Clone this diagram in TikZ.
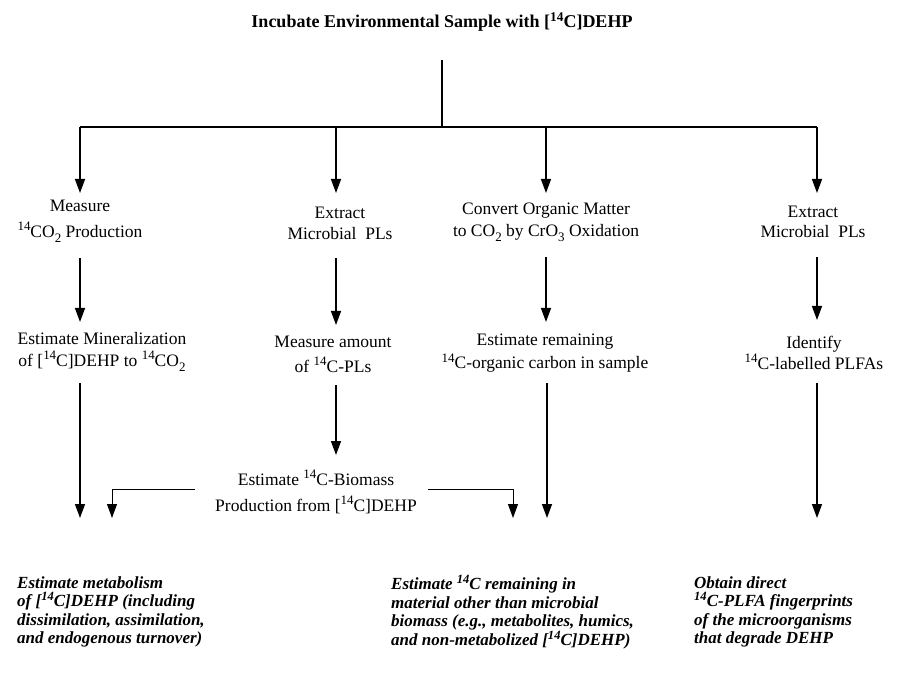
\documentclass[tikz,border=0pt]{standalone}
\usepackage{fontspec}
\usepackage{graphicx}
\setmainfont{Liberation Serif}
\usetikzlibrary{arrows.meta}
\newcommand{\sps}[1]{\raisebox{0.38em}{\scalebox{0.74}{#1}}}
\newcommand{\sbs}[1]{\raisebox{-0.3em}{\scalebox{0.74}{#1}}}
\begin{document}
\begin{tikzpicture}[x=1pt,y=-1pt,
  lbl/.style={font=\fontsize{17.5}{#1}\selectfont, align=center, inner sep=0pt},
  ttl/.style={font=\fontsize{18}{22}\selectfont\bfseries, inner sep=0pt},
  res/.style={font=\fontsize{17}{18.6}\selectfont\bfseries\itshape, align=left, inner sep=0pt, anchor=west},
  ln/.style={line width=1.4pt},
  arr/.style={line width=1.4pt, -{Triangle[length=14pt,width=10pt]}},
  tarr/.style={line width=1pt, -{Triangle[length=14pt,width=10pt]}}]
\useasboundingbox (0,0) rectangle (905,676);
\fill[white] (0,0) rectangle (905,676);

% title
\node[ttl, anchor=base] (t) at (442,28) {Incubate Environmental Sample with [\sps{14}C]DEHP};
\coordinate (j) at (442,127);
\coordinate (A) at (80,127);
\coordinate (B) at (336,127);
\coordinate (C) at (546,127);
\coordinate (D) at (817,127);

% row 1
\node[lbl=26] (m1) at (80,221) {Measure\\\sps{14}CO\sbs{2} Production};
\node[lbl=21] (e1) at (340,223.5) {Extract\\Microbial\ \ PLs};
\node[lbl=22] (c1) at (546,222) {Convert Organic Matter\\to CO\sbs{2} by CrO\sbs{3} Oxidation};
\node[lbl=20] (x1) at (813,222) {Extract\\Microbial\ \ PLs};

% row 2
\node[lbl=22] (m2) at (102,352) {Estimate Mineralization\\of [\sps{14}C]DEHP to \sps{14}CO\sbs{2}};
\node[lbl=25] (e2) at (333,354.5) {Measure amount\\of \sps{14}C-PLs};
\node[lbl=23] (c2) at (545,353.5) {Estimate remaining\\\sps{14}C-organic carbon in sample};
\node[lbl=21] (x2) at (814,352.5) {Identify\\\sps{14}C-labelled PLFAs};

% row 3
\node[lbl=26] (e3) at (316,492) {Estimate \sps{14}C-Biomass\\Production from [\sps{14}C]DEHP};

% arrow ends
\coordinate (bA) at (80,518);
\coordinate (bL) at (112,518);
\coordinate (bR) at (513,518);
\coordinate (bC) at (547,518);
\coordinate (bD) at (817,518);

% results
\node[res] (r1) at (17,612) {Estimate metabolism\\of [\sps{14}C]DEHP (including\\dissimilation, assimilation,\\and endogenous turnover)};
\node[res] (r2) at (391,612) {Estimate \sps{14}C remaining in\\material other than microbial\\biomass (e.g., metabolites, humics,\\and non-metabolized [\sps{14}C]DEHP)};
\node[res] (r3) at (694,612) {Obtain direct\\\sps{14}C-PLFA fingerprints\\of the microorganisms\\that degrade DEHP};

% connectors
\draw[ln] ([yshift=-32pt]t.base) -- (j);
\draw[ln] (A) -- (D);
\draw[arr, shorten >=28pt] (A) -- (A |- m1.center);
\draw[arr, shorten >=30.5pt] (B) -- (B |- e1.center);
\draw[arr, shorten >=29pt] (C) -- (C |- c1.center);
\draw[arr, shorten >=29pt] (D) -- (D |- x1.center);

\draw[arr, shorten <=37pt, shorten >=30pt] (A |- m1.center) -- (A |- m2.center);
\draw[arr, shorten <=34.5pt, shorten >=29.5pt] (B |- e1.center) -- (B |- e2.center);
\draw[arr, shorten <=35pt, shorten >=31.5pt] (C |- c1.center) -- (C |- c2.center);
\draw[arr, shorten <=35pt, shorten >=32.5pt] (D |- x1.center) -- (D |- x2.center);

\draw[arr, shorten <=31pt] (A |- m2.center) -- (bA);
\draw[arr, shorten <=30.5pt, shorten >=37pt] (B |- e2.center) -- (B |- e3.center);
\draw[arr, shorten <=29.5pt] (bC |- c2.center) -- (bC);
\draw[arr, shorten <=30.5pt] (D |- x2.center) -- (bD);

\draw[tarr] ([xshift=-121pt,yshift=3pt]e3.center) -| (bL);
\draw[tarr] ([xshift=112pt,yshift=3pt]e3.center) -| (bR);
\end{tikzpicture}
\end{document}
